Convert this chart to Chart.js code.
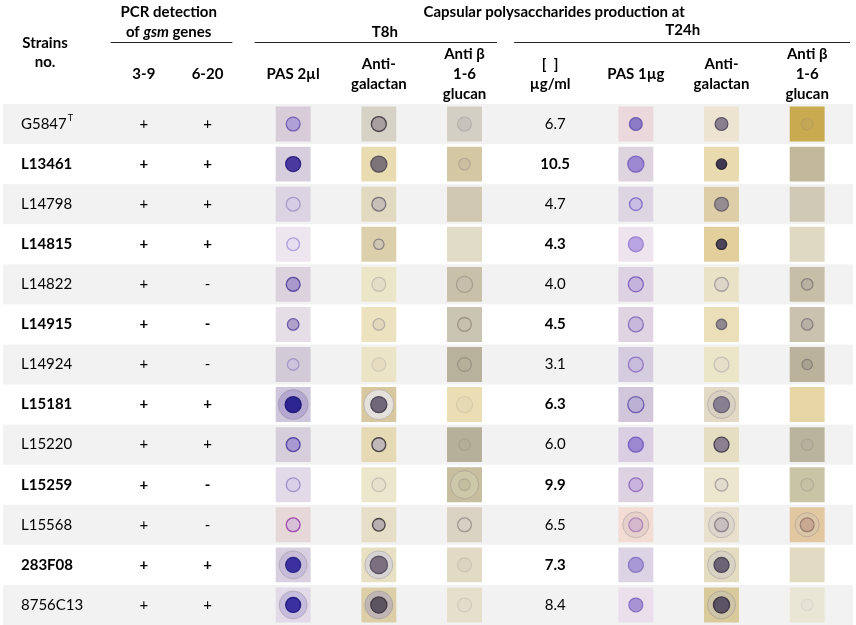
<!DOCTYPE html>
<html>
<head>
<meta charset="utf-8">
<script src="https://cdn.jsdelivr.net/npm/chart.js"></script>
<style>
  html, body { margin: 0; padding: 0; background: #fff; }
  canvas { display: block; }
</style>
</head>
<body>
<canvas id="chart" width="856" height="625"></canvas>
<script>
// table rows and values
const strains = ['G5847', 'L13461', 'L14798', 'L14815', 'L14822', 'L14915', 'L14924',
  'L15181', 'L15220', 'L15259', 'L15568', '283F08', '8756C13'];
const gsm39 = ['+', '+', '+', '+', '+', '+', '+', '+', '+', '+', '+', '+', '+'];
const gsm620 = ['+', '+', '+', '+', '-', '-', '-', '+', '+', '-', '-', '+', '+'];
const cpsConc = ['6.7', '10.5', '4.7', '4.3', '4.0', '4.5', '3.1', '6.3', '6.0', '9.9', '6.5', '7.3', '8.4'];

// columns (x categories) and their header lines
const columns = ['3-9', '6-20', 'T8h PAS', 'T8h galactan', 'T8h glucan', 'conc', 'T24h PAS', 'T24h galactan', 'T24h glucan'];
const columnHeaders = [['3-9'], ['6-20'], ['PAS 2µl'], ['Anti-', 'galactan'], ['Anti β', '1-6', 'glucan'],
  ['[  ]', 'µg/ml'], ['PAS 1µg'], ['Anti-', 'galactan'], ['Anti β', '1-6', 'glucan']];

// plate photos: [plate colour, spot fill, spot rim, spot radius, halo]
const platePas8 = [
  ['#d8ccd8', '#b0a0d8', '#7460b4', 6, null],
  ['#d6cedc', '#4a3aa0', '#2a2080', 6.5, null],
  ['#dcd4e2', '#d6cee6', '#a898cc', 6, null],
  ['#eee6ee', '#e6def0', '#b0a0dc', 5.5, null],
  ['#dcd2de', '#a898cc', '#5a4aa0', 6, null],
  ['#e6dee6', '#b0a0cc', '#6a5aa8', 5, null],
  ['#d2cad6', '#ccc4dc', '#a898c8', 5, null],
  ['#cec6dc', '#2c2490', '#201c78', 7, ['#b4a8d0', 15]],
  ['#d6ceda', '#a898d0', '#5848a8', 6, null],
  ['#e2dae8', '#d8d0e8', '#a090c8', 6, null],
  ['#e6d8d8', '#d8c0d8', '#a04ab0', 6, null],
  ['#d8d0e0', '#3c30a0', '#2a2488', 6.5, ['#c6bcd8', 14]],
  ['#e2dae8', '#3a30a0', '#241c84', 6.5, ['#c6bcdc', 14]]
];
const plateGal8 = [
  ['#d6d3c6', '#a8a0a0', '#4a4048', 6.5, null],
  ['#e8dcb0', '#7c7478', '#5a5058', 7, null],
  ['#e2dac0', '#c8c0b8', '#787078', 6, null],
  ['#dcd0ac', '#cfc6b4', '#8c8480', 4.5, null],
  ['#ece6c8', '#e4dec8', '#c8c0b0', 6, null],
  ['#ece2c0', '#e2d8bc', '#b8b0a4', 5, null],
  ['#ece4c6', '#e6ddc0', '#d4ccb8', 6, null],
  ['#d8c8a0', '#706878', '#4c4458', 7, ['#e4e0dc', 15]],
  ['#e6dab4', '#c0b8b8', '#4c4448', 6, null],
  ['#ece6cc', '#e6e0cc', '#c8c0b4', 6, null],
  ['#e6dec6', '#b8b0b0', '#484040', 5.5, null],
  ['#e8e0c2', '#7c7080', '#5c5464', 7.5, ['#d8d4d4', 14]],
  ['#dccfa8', '#5c5460', '#403844', 7, ['#c0b6b4', 14]]
];
const plateGlu8 = [
  ['#d4cfc4', '#c8c2bc', '#b8b0ac', 6, null],
  ['#d4c7a4', '#ccbfa0', '#b8a894', 5, null],
  ['#d0c8b0', '#d0c8b0', '#c8c0a8', 0, null],
  ['#e0dcc8', '#e0dcc8', '#e0dcc8', 0, null],
  ['#c8c0a8', '#c6beaa', '#a8a090', 7, null],
  ['#cac4b2', '#c6c0ae', '#9c9486', 6, null],
  ['#b8b29c', '#b6b09a', '#9c9484', 6, null],
  ['#ebdeb4', '#e6dab4', '#d8ccaa', 7, null],
  ['#b6b09a', '#b4ae98', '#a8a28e', 5, null],
  ['#c6be9e', '#c4bea0', '#b4ac96', 5, ['#cec8aa', 14]],
  ['#dad2c2', '#d8d0c4', '#a09890', 6, null],
  ['#e2dac4', '#dcd4c0', '#cec6b4', 6, null],
  ['#e6dfcb', '#e2dcca', '#d2ccbc', 6, null]
];
const platePas24 = [
  ['#ead8dc', '#8c7cc8', '#6a58b0', 5.5, null],
  ['#ddd4de', '#9c88d0', '#7c64c0', 7, null],
  ['#ddd5e2', '#c8bce4', '#8470c4', 5.5, null],
  ['#eee4ee', '#b8a4e0', '#9c84d4', 6.5, null],
  ['#ddd2e2', '#c4b4dc', '#8060c0', 6.5, null],
  ['#e0d4e2', '#c8b8dc', '#8c70c0', 6.5, null],
  ['#d6cce0', '#c8bcdc', '#9478c8', 6.5, null],
  ['#d2c6da', '#bcb0d4', '#6c5cb0', 7, null],
  ['#dacee2', '#9c88d0', '#7460c0', 6.5, null],
  ['#ddd2e2', '#c8b4dc', '#9470c0', 6, null],
  ['#f2dcd4', '#d4b8cc', '#b088b8', 6, ['#e6d0cc', 13]],
  ['#dcd4e4', '#a898d4', '#8878c4', 6.5, null],
  ['#eadfea', '#a894d4', '#8870c4', 6, null]
];
const plateGal24 = [
  ['#ece4d0', '#8a8090', '#5c5464', 5.5, null],
  ['#eadab0', '#403850', '#302838', 4.5, null],
  ['#ddcea8', '#948c90', '#6c6468', 6, null],
  ['#e2cf9c', '#4c4458', '#2c2834', 4.5, null],
  ['#eae2c6', '#ddd6c8', '#a8a0a0', 6, null],
  ['#eadfb8', '#908890', '#6c6470', 4.5, null],
  ['#ece6c8', '#e6dec8', '#c8c0b8', 6.5, null],
  ['#e2dac4', '#888090', '#6c6474', 7, ['#d8d0c0', 14]],
  ['#e6dec2', '#8c8090', '#4c4450', 6.5, null],
  ['#ece6ce', '#e2dcce', '#aca4a0', 5.5, null],
  ['#e8e0cc', '#c8c0c0', '#8c8088', 6, ['#dcd6cc', 13]],
  ['#e4dcc0', '#6c6474', '#4c4454', 6.5, ['#d8d2c4', 14]],
  ['#d9ca9c', '#5c5464', '#3c3444', 7, ['#cec4a8', 14]]
];
const plateGlu24 = [
  ['#c8aa50', '#c4a858', '#b89e58', 5, null],
  ['#c2b89c', '#c2b89c', '#c2b89c', 0, null],
  ['#d0c9b6', '#d0c9b6', '#d0c9b6', 0, null],
  ['#dfd8c2', '#dfd8c2', '#dfd8c2', 0, null],
  ['#c6bea6', '#b8b0a0', '#8c847c', 5, null],
  ['#cac2ae', '#b8b0a4', '#8a8080', 5, null],
  ['#bab29a', '#aaa290', '#8a8278', 4.5, null],
  ['#e6d6a6', '#e6d6a6', '#e6d6a6', 0, null],
  ['#bab49e', '#b6b09c', '#a8a290', 5, null],
  ['#cac4a6', '#c6c0a4', '#b4ae98', 5.5, null],
  ['#e2c8a0', '#c8a890', '#9c8070', 6, ['#dcc6a8', 12]],
  ['#e2dac2', '#e2dac2', '#e2dac2', 0, null],
  ['#eae6d6', '#e6e2d6', '#dcd8cc', 5, null]
];

const plates = [
  ['T8h PAS', platePas8], ['T8h galactan', plateGal8], ['T8h glucan', plateGlu8],
  ['T24h PAS', platePas24], ['T24h galactan', plateGal24], ['T24h glucan', plateGlu24]
];

const SPOT_SCALE = 1.15;
const plateData = [], plateBg = [], spotBg = [], spotRim = [], spotR = [], haloBg = [], haloR = [];
plates.forEach(([col, cells]) => {
  cells.forEach((c, i) => {
    plateData.push({ x: col, y: strains[i] });
    plateBg.push(c[0]);
    spotBg.push(c[1]);
    spotRim.push(c[2]);
    spotR.push(c[3] * SPOT_SCALE);
    haloBg.push(c[4] ? c[4][0] : 'rgba(0,0,0,0)');
    haloR.push(c[4] ? c[4][1] : 0);
  });
});

const FONT = "Lato, 'Open Sans', sans-serif";

function drawText(ctx, str, x, y, bold, align) {
  ctx.font = (bold ? 'bold ' : '') + '15px ' + FONT;
  ctx.textAlign = align || 'center';
  ctx.textBaseline = 'middle';
  ctx.fillStyle = '#000';
  ctx.fillText(str, x, y);
}

const tablePlugin = {
  id: 'tablePlugin',
  beforeDatasetsDraw(chart) {
    const { ctx, scales: { y } } = chart;
    const band = (y.bottom - y.top) / strains.length;
    ctx.save();
    ctx.fillStyle = '#f2f2f2';
    strains.forEach((s, i) => {
      if (i % 2 === 0) ctx.fillRect(3, y.getPixelForValue(i) - band / 2, 850, band);
    });
    ctx.restore();
  },
  afterDatasetsDraw(chart) {
    const { ctx, scales: { x, y } } = chart;
    const step = x.getPixelForValue(1) - x.getPixelForValue(0);
    const cx = i => x.getPixelForValue(i);
    ctx.save();

    // header: strain column
    drawText(ctx, 'Strains', 45, 43, true);
    drawText(ctx, 'no.', 45, 62, true);

    // group headers
    const pcrMid = (cx(0) + cx(1)) / 2 + 4;
    drawText(ctx, 'PCR detection', pcrMid, 12, true);
    ctx.font = 'bold 15px ' + FONT;
    const w1 = ctx.measureText('of ').width;
    ctx.font = 'italic bold 15px ' + FONT;
    const w2 = ctx.measureText('gsm').width;
    ctx.font = 'bold 15px ' + FONT;
    const w3 = ctx.measureText(' genes').width;
    const sx = pcrMid - (w1 + w2 + w3) / 2;
    drawText(ctx, 'of ', sx, 32, true, 'left');
    ctx.font = 'italic bold 15px ' + FONT;
    ctx.textAlign = 'left';
    ctx.fillText('gsm', sx + w1, 32);
    drawText(ctx, ' genes', sx + w1 + w2, 32, true, 'left');

    drawText(ctx, 'Capsular polysaccharides production at', (cx(2) + cx(8)) / 2 + 4, 12, true);
    drawText(ctx, 'T8h', cx(3) + 6, 32, true);
    drawText(ctx, 'T24h', (cx(5) + cx(8)) / 2 + 4, 30, true);

    ctx.strokeStyle = '#222';
    ctx.lineWidth = 1;
    const rule = (a, b) => {
      ctx.beginPath();
      ctx.moveTo(a, 42.5);
      ctx.lineTo(b, 42.5);
      ctx.stroke();
    };
    rule(cx(0) - step * 0.13, cx(1) + step * 0.29);
    rule(cx(2) - step * 0.45, cx(4) + step * 0.38);
    rule(cx(5) - step * 0.42, cx(8) + step * 0.5);

    // column headers
    columnHeaders.forEach((lines, i) => {
      const top = 74 - (lines.length - 1) * 10;
      lines.forEach((t, k) => drawText(ctx, t, cx(i) + (i === 0 ? 22 : 0), top + k * 20, true));
    });

    // body cells
    strains.forEach((s, i) => {
      const py = y.getPixelForValue(i);
      const bold = i % 2 === 1;
      drawText(ctx, s, 21, py, bold, 'left');
      if (i === 0) {
        ctx.font = '15px ' + FONT;
        const sw = ctx.measureText(s).width;
        ctx.font = '9px ' + FONT;
        ctx.textAlign = 'left';
        ctx.fillText('T', 21 + sw + 1, py - 6);
      }
      drawText(ctx, gsm39[i], cx(0) + 22, py, bold);
      drawText(ctx, gsm620[i], cx(1), py, bold);
      drawText(ctx, cpsConc[i], cx(5) + 5, py, bold);
    });
    ctx.restore();
  }
};

new Chart(document.getElementById('chart'), {
  type: 'scatter',
  data: {
    datasets: [
      {
        label: 'spot',
        data: plateData,
        order: 1,
        pointStyle: 'circle',
        pointRadius: spotR,
        pointBackgroundColor: spotBg,
        pointBorderColor: spotRim,
        pointBorderWidth: 1.3
      },
      {
        label: 'halo',
        data: plateData,
        order: 2,
        pointStyle: 'circle',
        pointRadius: haloR,
        pointBackgroundColor: haloBg,
        pointBorderColor: 'rgba(120,110,120,0.3)',
        pointBorderWidth: 1
      },
      {
        label: 'plate',
        data: plateData,
        order: 3,
        pointStyle: 'rect',
        pointRadius: 24.7,
        pointBackgroundColor: plateBg,
        pointBorderWidth: 0
      }
    ]
  },
  options: {
    responsive: false,
    animation: false,
    events: [],
    layout: { autoPadding: false, padding: { top: 104, left: 79, right: 6, bottom: 0 } },
    plugins: { legend: { display: false }, tooltip: { enabled: false } },
    scales: {
      x: { type: 'category', labels: columns, offset: true, display: false },
      y: { type: 'category', labels: strains, offset: true, display: false }
    }
  },
  plugins: [tablePlugin]
});
</script>
</body>
</html>
